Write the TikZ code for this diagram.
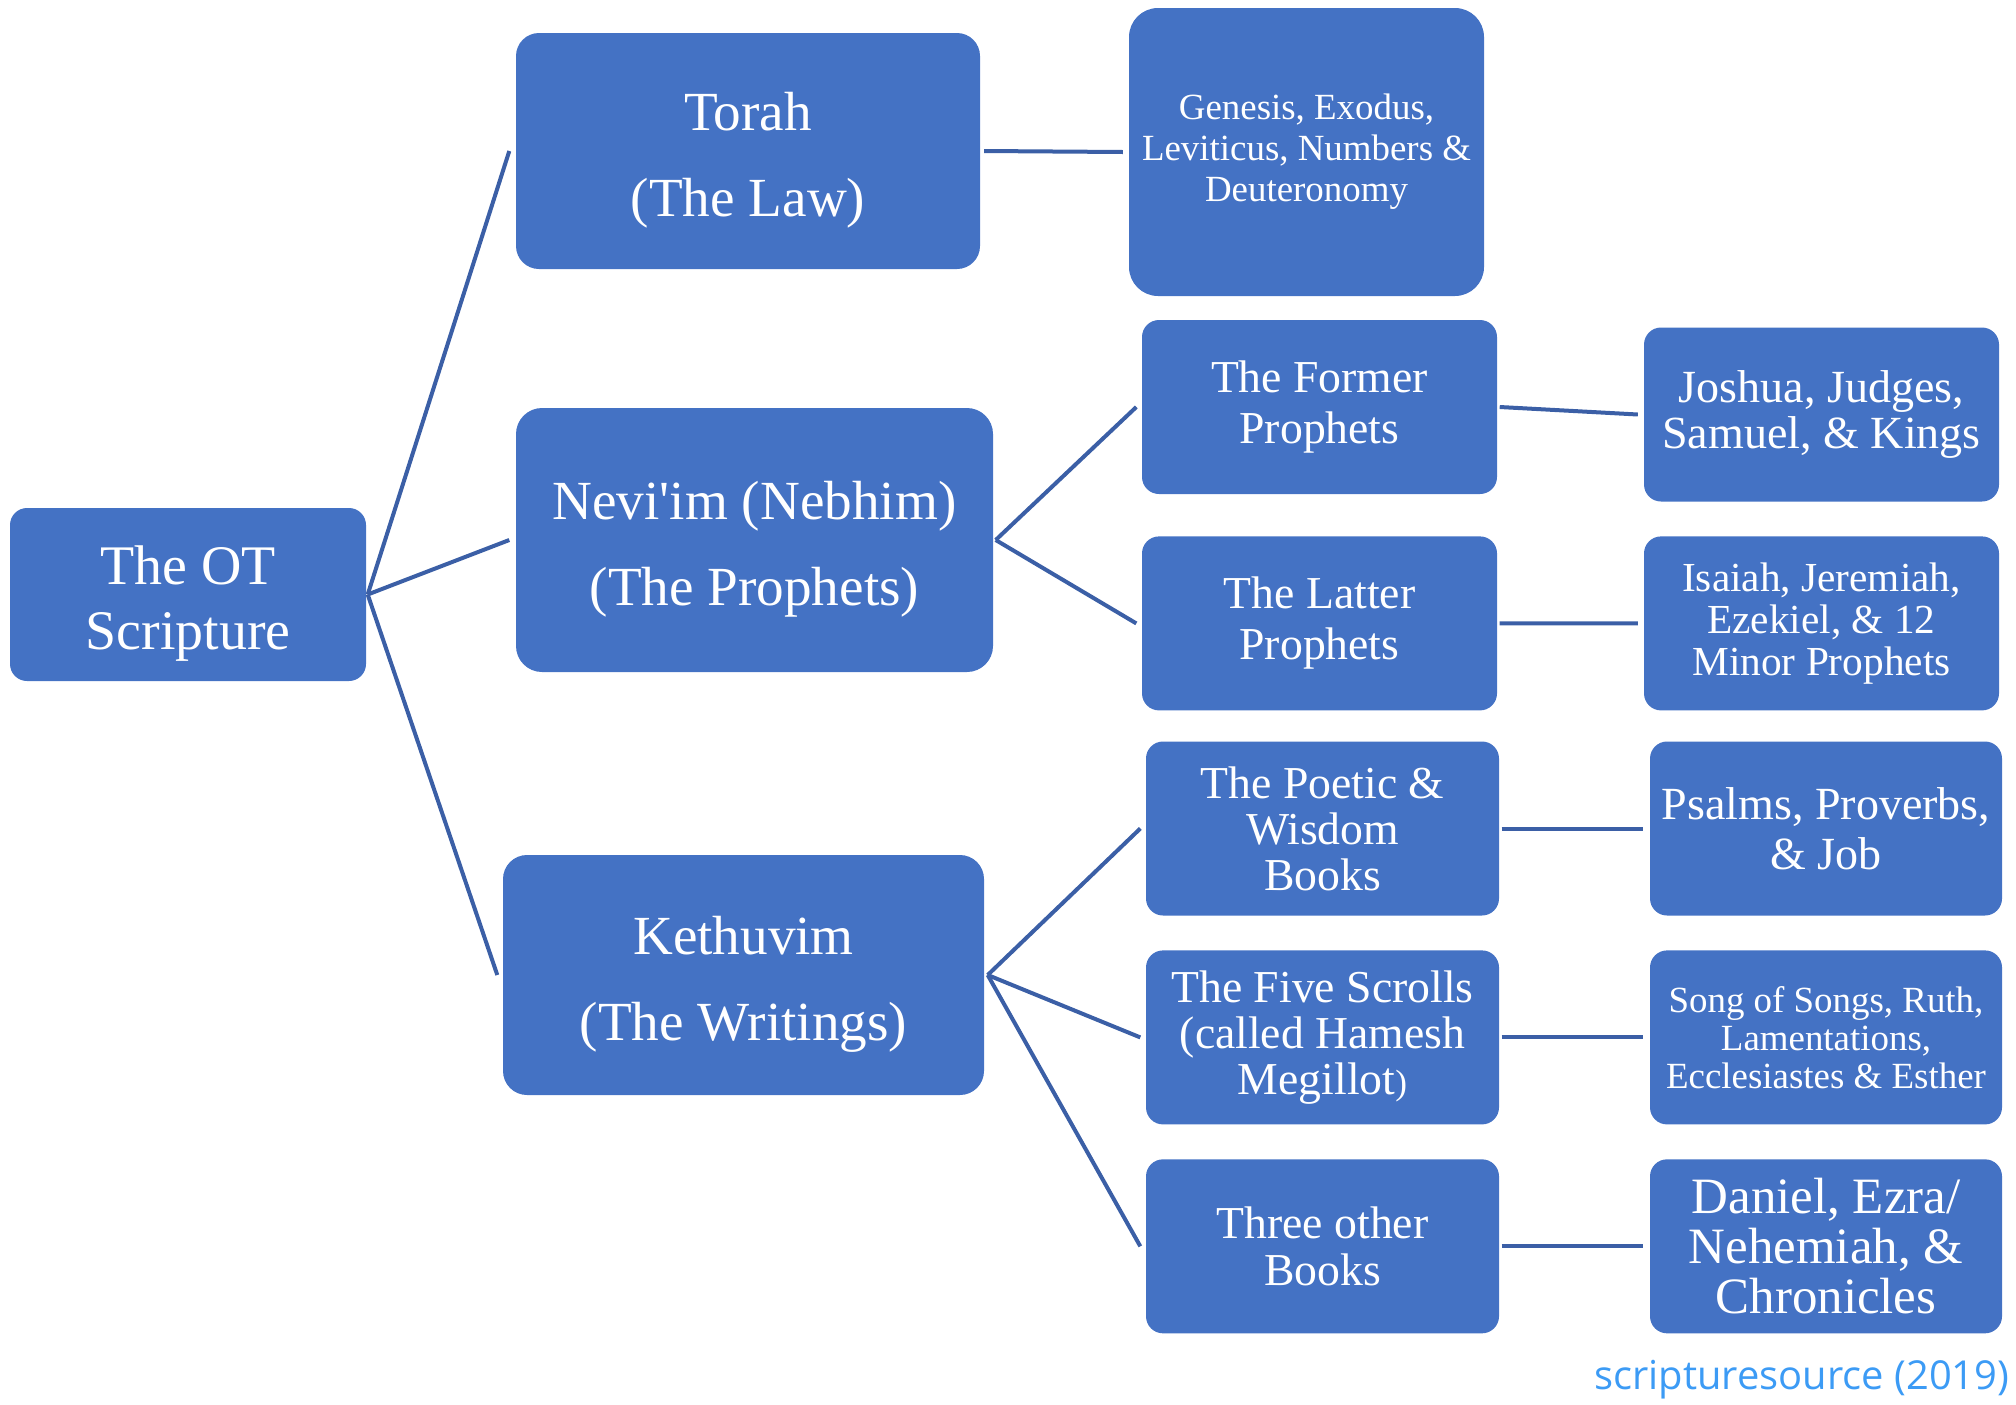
\documentclass[tikz,border=0pt]{standalone}
\usepackage{fontspec}
\setmainfont{Liberation Serif}[Ligatures=TeXOff]
\newfontfamily\sursafont{Open Sans}
\usetikzlibrary{positioning}
\definecolor{albastru}{HTML}{4472C4}
\definecolor{linieal}{HTML}{3B5FA6}
\definecolor{sursaal}{HTML}{3C9BF5}
\newcommand{\urca}{\rule{0pt}{5.6mm}}
\tikzset{
  bloc/.style     = {fill=albastru, text=white, align=center, inner sep=0pt,
                     rounded corners=1.7mm, minimum width=35.5mm, minimum height=17.4mm,
                     font=\fontsize{13}{14.5}\selectfont},
  blocmare/.style = {bloc, font=\fontsize{15.7}{24.5}\selectfont},
  legatura/.style = {draw=linieal, line width=0.4mm},
  sursa/.style    = {text=sursaal, inner sep=0pt, font=\sursafont\fontsize{11.35}{13}\selectfont}
}
\begin{document}
\begin{tikzpicture}[x=0.1mm, y=-0.1mm]
        \useasboundingbox (0,0) rectangle (2016,1404);

        \node[blocmare, minimum width=35.6mm, minimum height=17.3mm, font=\fontsize{15.9}{18.5}\selectfont] (ot) at (188,594.5) {\urca The OT\\Scripture};
        \node[blocmare, minimum width=46.4mm, minimum height=23.6mm, rounded corners=2.3mm] (tora) at (748,151) {\urca Torah\\(The Law)};
        \node[blocmare, minimum width=47.7mm, minimum height=26.4mm, rounded corners=2.6mm] (nev) at (754.5,540) {\urca Nevi'im (Nebhim)\\(The Prophets)};
        \node[blocmare, minimum width=48.1mm, minimum height=24mm, rounded corners=2.4mm] (ket) at (743.5,975) {\urca Kethuvim\\(The Writings)};

        \node[bloc, minimum height=28.8mm, rounded corners=2.9mm, font=\fontsize{10.5}{11.7}\selectfont] (gen) at (1306.5,152)
            {Genesis, Exodus,\\Leviticus, Numbers \&\\Deuteronomy};
        \node[bloc] (fost) at (1319.5,407) {The Former\\Prophets};
        \node[bloc, below=4.1mm of fost] (ult) {The Latter\\Prophets};
        \node[bloc, minimum width=35.3mm, font=\fontsize{13}{13.1}\selectfont] (poez) at (1322.5,828.5) {The Poetic \&\\Wisdom\\Books};
        \node[bloc, minimum width=35.3mm, below=3.35mm of poez, font=\fontsize{13}{13.1}\selectfont] (sul)
            {The Five Scrolls\\(called Hamesh\\Megillot{\fontsize{10}{10}\selectfont)}};
        \node[bloc, minimum width=35.3mm, below=3.35mm of sul, font=\fontsize{13}{13.2}\selectfont] (trei) {Three other\\Books};

        \node[bloc, font=\fontsize{13.1}{12.9}\selectfont] (ios) at (1821.5,414.5) {Joshua, Judges,\\Samuel, \& Kings};
        \node[bloc, below=3.35mm of ios, font=\fontsize{11.75}{12}\selectfont] (isa) {Isaiah, Jeremiah,\\Ezekiel, \& 12\\Minor Prophets};
        \node[bloc, minimum width=35.2mm, font=\fontsize{13.1}{14.2}\selectfont] (ps) at (1826,828.5) {Psalms, Proverbs,\\\& Job};
        \node[bloc, minimum width=35.2mm, below=3.35mm of ps, font=\fontsize{10.5}{10.8}\selectfont] (cant)
            {Song of Songs, Ruth,\\Lamentations,\\Ecclesiastes \& Esther};
        \node[bloc, minimum width=35.2mm, below=3.35mm of cant, font=\fontsize{14.5}{14.2}\selectfont] (dan)
            {Daniel, Ezra/\\Nehemiah, \&\\Chronicles};

        \node[sursa, anchor=base east] (semn) at (2010,1389) {scripturesource (2019)};

        \draw[legatura] ([xshift=0.1mm]ot.east) -- ([xshift=-0.6mm]tora.west);
        \draw[legatura] ([xshift=0.1mm]ot.east) -- ([xshift=-0.6mm]nev.west);
        \draw[legatura] ([xshift=0.1mm]ot.east) -- ([xshift=-0.5mm]ket.west);
        \draw[legatura] ([xshift=0.35mm]tora.east) -- ([xshift=-0.55mm]gen.west);
        \draw[legatura] ([xshift=0.2mm]nev.east) -- ([xshift=-0.5mm]fost.west);
        \draw[legatura] ([xshift=0.2mm]nev.east) -- ([xshift=-0.5mm]ult.west);
        \draw[legatura] ([xshift=0.3mm]ket.east) -- ([xshift=-0.5mm]poez.west);
        \draw[legatura] ([xshift=0.3mm]ket.east) -- ([xshift=-0.5mm]sul.west);
        \draw[legatura] ([xshift=0.3mm]ket.east) -- ([xshift=-0.5mm]trei.west);
        \draw[legatura] ([xshift=0.2mm]fost.east) -- ([xshift=-0.55mm]ios.west);
        \draw[legatura] ([xshift=0.2mm]ult.east) -- ([xshift=-0.55mm]isa.west);
        \draw[legatura] ([xshift=0.2mm]poez.east) -- ([xshift=-0.6mm]ps.west);
        \draw[legatura] ([xshift=0.2mm]sul.east) -- ([xshift=-0.6mm]cant.west);
        \draw[legatura] ([xshift=0.2mm]trei.east) -- ([xshift=-0.6mm]dan.west);
    \end{tikzpicture}
\end{document}
